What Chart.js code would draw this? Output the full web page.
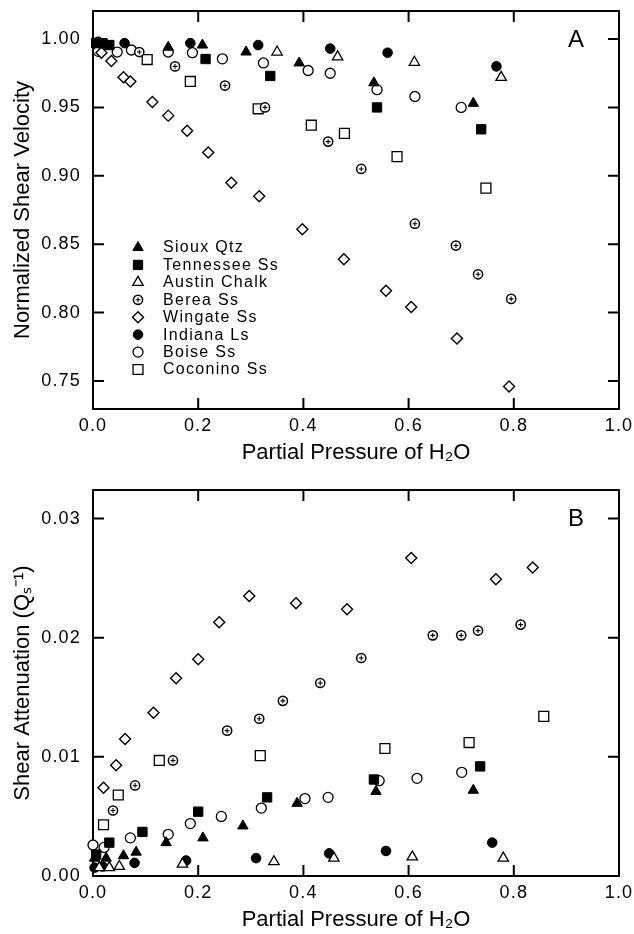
<!DOCTYPE html>
<html><head><meta charset="utf-8">
<script src="https://cdn.jsdelivr.net/npm/chart.js@4"></script>
<style>html,body{margin:0;padding:0;background:#fff;width:634px;height:934px;overflow:hidden}canvas{display:block;position:absolute;left:0}</style>
</head><body>
<canvas id="ca" width="634" height="467" style="top:0"></canvas>
<canvas id="cb" width="634" height="467" style="top:467px"></canvas>
<script>
// ---------- data ----------
const seriesNames = ['Sioux Qtz','Tennessee Ss','Austin Chalk','Berea Ss','Wingate Ss','Indiana Ls','Boise Ss','Coconino Ss'];
const xTicks = [0.0, 0.2, 0.4, 0.6, 0.8, 1.0];
const yTicksA = [0.75, 0.80, 0.85, 0.90, 0.95, 1.00];
const yTicksB = [0.00, 0.01, 0.02, 0.03];

// Panel A: normalized shear velocity
const siouxA_p = [0.143, 0.208, 0.291, 0.392, 0.534, 0.723];
const siouxA_v = [0.994, 0.9956, 0.9905, 0.9825, 0.968, 0.953];
const tennA_p = [0.006, 0.018, 0.031, 0.214, 0.337, 0.540, 0.738];
const tennA_v = [0.997, 0.997, 0.9956, 0.9854, 0.973, 0.950, 0.934];
const austinA_p = [0.350, 0.465, 0.611, 0.776];
const austinA_v = [0.9905, 0.987, 0.983, 0.972];
const bereaA_p = [0.088, 0.156, 0.251, 0.327, 0.447, 0.510, 0.612, 0.690, 0.732, 0.795];
const bereaA_v = [0.9905, 0.980, 0.966, 0.950, 0.925, 0.905, 0.865, 0.849, 0.828, 0.810];
const wingA_p = [0.016, 0.035, 0.058, 0.071, 0.113, 0.143, 0.179, 0.219, 0.263, 0.316, 0.398, 0.477, 0.557, 0.605, 0.692, 0.791];
const wingA_v = [0.990, 0.984, 0.972, 0.969, 0.954, 0.944, 0.933, 0.917, 0.895, 0.885, 0.861, 0.839, 0.816, 0.804, 0.781, 0.746];
const indA_p = [0.010, 0.060, 0.185, 0.314, 0.451, 0.560, 0.767];
const indA_v = [0.998, 0.997, 0.997, 0.9956, 0.993, 0.990, 0.980];
const boiseA_p = [0.010, 0.046, 0.073, 0.143, 0.189, 0.246, 0.324, 0.409, 0.451, 0.540, 0.612, 0.700];
const boiseA_v = [0.991, 0.9905, 0.992, 0.9905, 0.990, 0.9855, 0.9825, 0.977, 0.975, 0.963, 0.958, 0.950];
const cocoA_p = [0.103, 0.185, 0.314, 0.415, 0.478, 0.578, 0.747];
const cocoA_v = [0.985, 0.969, 0.949, 0.937, 0.931, 0.914, 0.891];

// Panel B: shear attenuation
const siouxB_p = [0.003, 0.025, 0.058, 0.082, 0.139, 0.209, 0.285, 0.388, 0.538, 0.723];
const siouxB_q = [0.0015, 0.0015, 0.0017, 0.0020, 0.0028, 0.0032, 0.0042, 0.0061, 0.0071, 0.0072];
const tennB_p = [0.006, 0.031, 0.094, 0.200, 0.331, 0.534, 0.736];
const tennB_q = [0.0018, 0.0028, 0.0037, 0.0054, 0.0066, 0.0081, 0.0092];
const austinB_p = [0.012, 0.031, 0.050, 0.170, 0.344, 0.458, 0.607, 0.780];
const austinB_q = [0.0007, 0.0007, 0.0008, 0.0010, 0.0012, 0.0015, 0.0016, 0.0015];
const bereaB_p = [0.038, 0.080, 0.152, 0.255, 0.316, 0.361, 0.432, 0.510, 0.646, 0.700, 0.732, 0.813];
const bereaB_q = [0.0055, 0.0076, 0.0097, 0.0122, 0.0132, 0.0147, 0.0162, 0.0183, 0.0202, 0.0202, 0.0206, 0.0211];
const wingB_p = [0.020, 0.044, 0.061, 0.115, 0.158, 0.200, 0.240, 0.297, 0.386, 0.483, 0.605, 0.766, 0.836];
const wingB_q = [0.0074, 0.0093, 0.0115, 0.0137, 0.0166, 0.0182, 0.0213, 0.0235, 0.0229, 0.0224, 0.0267, 0.0249, 0.0259];
const indB_p = [0.003, 0.018, 0.079, 0.177, 0.310, 0.449, 0.557, 0.759];
const indB_q = [0.0007, 0.0008, 0.0011, 0.0013, 0.0015, 0.0019, 0.0021, 0.0028];
const boiseB_p = [0.000, 0.021, 0.071, 0.143, 0.185, 0.244, 0.320, 0.403, 0.447, 0.544, 0.616, 0.701];
const boiseB_q = [0.0026, 0.0024, 0.0032, 0.0035, 0.0044, 0.0050, 0.0057, 0.0065, 0.0066, 0.0080, 0.0082, 0.0087];
const cocoB_p = [0.020, 0.048, 0.126, 0.318, 0.555, 0.715, 0.857];
const cocoB_q = [0.0043, 0.0068, 0.0097, 0.0101, 0.0107, 0.0112, 0.0134];

// ---------- styles ----------
const FONT = "'Liberation Sans', Arial, Helvetica, sans-serif";
const markerStyles = [
  {pointStyle:'triangle', pointRadius:6, backgroundColor:'#000', borderWidth:1},
  {pointStyle:'rect', pointRadius:6.6, backgroundColor:'#000', borderWidth:1},
  {pointStyle:'triangle', pointRadius:6, backgroundColor:'#fff', borderWidth:1.3},
  {pointStyle:'circle', pointRadius:4.6, backgroundColor:'#fff', borderWidth:1.5, plusInside:true},
  {pointStyle:'rectRot', pointRadius:5.5, backgroundColor:'#fff', borderWidth:1.4},
  {pointStyle:'circle', pointRadius:4.8, backgroundColor:'#000', borderWidth:1},
  {pointStyle:'circle', pointRadius:5, backgroundColor:'#fff', borderWidth:1.3},
  {pointStyle:'rect', pointRadius:7, backgroundColor:'#fff', borderWidth:1.3}
];
function makeSets(pairs){
  return pairs.map((pr, i) => Object.assign({
    label: seriesNames[i],
    data: pr[0].map((x, j) => ({x: x, y: pr[1][j]})),
    borderColor: '#000', showLine: false, clip: false, pointHoverRadius: 0
  }, markerStyles[i]));
}
function drawPlus(ctx, x, y){
  ctx.save(); ctx.strokeStyle = '#000'; ctx.lineWidth = 1.1; ctx.beginPath();
  ctx.moveTo(x, y - 2.4); ctx.lineTo(x, y + 2.4); ctx.moveTo(x - 2.4, y); ctx.lineTo(x + 2.4, y);
  ctx.stroke(); ctx.restore();
}

// ---------- plugins ----------
function spacedLabels(chart){
  Object.values(chart.scales).forEach(s => {
    if (s._spaced) return;
    const orig = s.drawLabels;
    s.drawLabels = function(ca){
      const ctx = this.ctx; const prev = ctx.letterSpacing;
      ctx.letterSpacing = '1.2px'; orig.call(this, ca); ctx.letterSpacing = prev || '0px';
    };
    s._spaced = true;
  });
}
const framePlugin = {
  id: 'frame',
  beforeDraw(chart){ spacedLabels(chart); },
  beforeDatasetsDraw(chart){
    const {ctx, chartArea: a} = chart; const xs = chart.scales.x, ys = chart.scales.y;
    const o = chart.options.plugins.frame;
    ctx.save(); ctx.strokeStyle = '#000'; ctx.lineWidth = 2; ctx.lineCap = 'square';
    ctx.strokeRect(a.left, a.top, a.right - a.left, a.bottom - a.top);
    const L = 10; ctx.beginPath();
    xTicks.forEach(v => { const px = xs.getPixelForValue(v);
      if (px <= a.left + 1 || px >= a.right - 1) return;
      ctx.moveTo(px, a.bottom); ctx.lineTo(px, a.bottom - L);
      ctx.moveTo(px, a.top); ctx.lineTo(px, a.top + L); });
    o.yTicks.forEach(v => { const py = ys.getPixelForValue(v);
      if (py >= a.bottom - 1 || py <= a.top + 1) return;
      ctx.moveTo(a.left, py); ctx.lineTo(a.left + L, py);
      ctx.moveTo(a.right, py); ctx.lineTo(a.right - L, py); });
    ctx.stroke();
    ctx.fillStyle = '#000'; ctx.font = '24px ' + FONT; ctx.textAlign = 'center'; ctx.textBaseline = 'alphabetic';
    ctx.fillText(o.letter, a.right - 43, a.top + 36);
    ctx.restore();
  },
  afterDatasetDraw(chart, args){
    const ds = chart.data.datasets[args.index];
    if (!ds.plusInside) return;
    args.meta.data.forEach(el => drawPlus(chart.ctx, el.x, el.y));
  },
  afterDatasetsDraw(chart){
    const o = chart.options.plugins.frame;
    if (!o.legend) return;
    const ctx = chart.ctx; ctx.save();
    chart.data.datasets.forEach((ds, i) => {
      const y = 247.5 + i * 17.43;
      ctx.fillStyle = ds.backgroundColor; ctx.strokeStyle = '#000'; ctx.lineWidth = ds.borderWidth;
      Chart.helpers.drawPoint(ctx, {pointStyle: ds.pointStyle, radius: ds.pointRadius, borderWidth: ds.borderWidth, rotation: 0}, 138, y);
      if (ds.plusInside) drawPlus(ctx, 138, y);
      ctx.fillStyle = '#000'; ctx.font = '16px ' + FONT; ctx.textAlign = 'left'; ctx.textBaseline = 'middle';
      ctx.letterSpacing = '1.3px';
      ctx.fillText(ds.label, 163, y + 0.5);
      ctx.letterSpacing = '0px';
    });
    ctx.restore();
  }
};

function makeChart(id, sets, yMin, yMax, yTicks, yDec, yTitle, topPad, letter, legend){
  return new Chart(document.getElementById(id), {
    type: 'scatter',
    data: {datasets: sets},
    options: {
      responsive: false, animation: false, events: [],
      layout: {padding: {top: topPad, right: 15, bottom: 0, left: 0}},
      plugins: {legend: {display: false}, tooltip: {enabled: false},
        frame: {yTicks: yTicks, letter: letter, legend: legend}},
      scales: {
        x: {type: 'linear', min: 0, max: 1,
          afterBuildTicks: s => { s.ticks = xTicks.map(v => ({value: v})); },
          afterFit: s => { s.height = 58; s.paddingLeft = 0; s.paddingRight = 0; s.paddingTop = 0; s.paddingBottom = 0; },
          grid: {display: false, drawTicks: false}, border: {display: false},
          ticks: {callback: v => v.toFixed(1), color: '#000', padding: 6, maxRotation: 0, autoSkip: false,
            font: {family: FONT, size: 18}},
          title: {display: true, text: 'Partial Pressure of H\u2082O', color: '#000',
            font: {family: FONT, size: 22}, padding: {top: 0, bottom: 1}}},
        y: {type: 'linear', min: yMin, max: yMax,
          afterBuildTicks: s => { s.ticks = yTicks.map(v => ({value: v})); },
          afterFit: s => { s.width = 93; s.paddingLeft = 0; s.paddingRight = 0; s.paddingTop = 0; s.paddingBottom = 0; },
          grid: {display: false, drawTicks: false}, border: {display: false},
          ticks: {callback: v => v.toFixed(yDec), color: '#000', padding: 12, autoSkip: false,
            font: {family: FONT, size: 18}},
          title: {display: true, text: yTitle, color: '#000',
            font: {family: FONT, size: 22}, padding: {top: 10, bottom: 0}}}
      }
    },
    plugins: [framePlugin]
  });
}

makeChart('ca', makeSets([[siouxA_p, siouxA_v],[tennA_p, tennA_v],[austinA_p, austinA_v],[bereaA_p, bereaA_v],
  [wingA_p, wingA_v],[indA_p, indA_v],[boiseA_p, boiseA_v],[cocoA_p, cocoA_v]]),
  0.7295, 1.0205, yTicksA, 2, 'Normalized Shear Velocity', 11, 'A', true);
makeChart('cb', makeSets([[siouxB_p, siouxB_q],[tennB_p, tennB_q],[austinB_p, austinB_q],[bereaB_p, bereaB_q],
  [wingB_p, wingB_q],[indB_p, indB_q],[boiseB_p, boiseB_q],[cocoB_p, cocoB_q]]),
  0, 0.0324, yTicksB, 2, 'Shear Attenuation (Q\u209B\u207B\u00B9)', 23, 'B', false);
</script>
</body></html>
